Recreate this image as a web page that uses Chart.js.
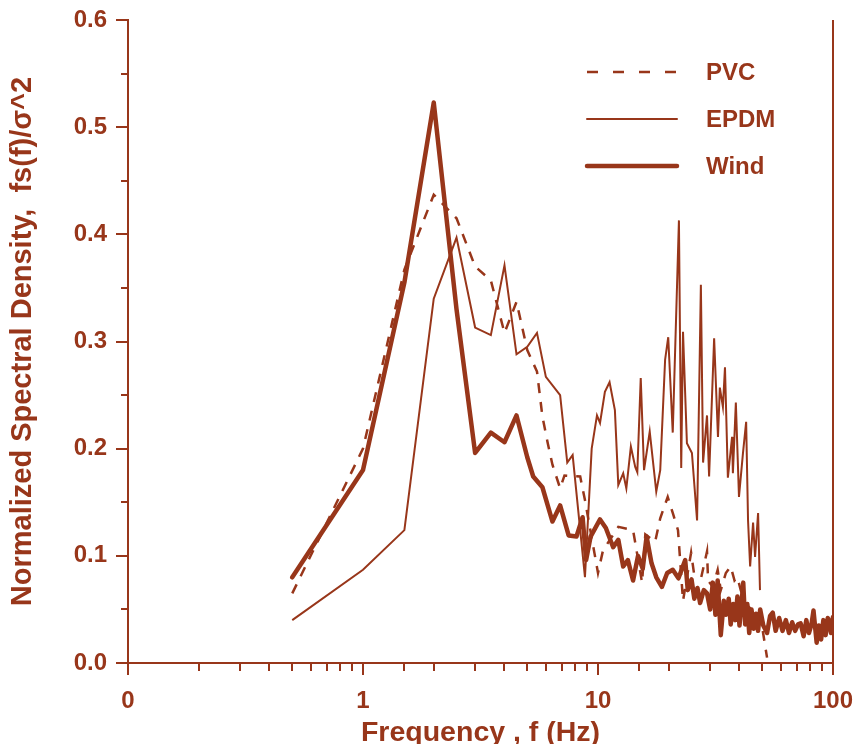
<!DOCTYPE html>
<html>
<head>
<meta charset="utf-8">
<script src="https://cdn.jsdelivr.net/npm/chart.js@4/dist/chart.umd.min.js"></script>
<style>
  html, body { margin: 0; padding: 0; background: #fff; }
  canvas { display: block; }
</style>
</head>
<body>
<canvas id="psd" width="856" height="744"></canvas>
<script>
const ink = '#98361a';
const fontFam = "'Liberation Sans', Arial, Helvetica, sans-serif";

// (Hz, normalized density)
const pvcFreq = [0.5, 1, 1.5, 2, 2.5, 3, 3.5, 4, 4.5, 5, 5.5, 5.8, 6.1, 6.4, 6.9, 7.2, 8.4, 8.8,
  10.0, 10.5, 12.2, 14.1, 15.4, 15.9, 17.5, 18.4, 19.8, 20.8, 21.9, 23.0, 24.9, 25.6, 27.5,
  29.1, 29.4, 30.8, 32.3, 33.3, 35.0, 36.7, 38.1, 39.2, 40.5, 42.0, 45.0, 49.0, 52.4];
const pvcVal = [0.065, 0.20, 0.367, 0.437, 0.415, 0.37, 0.357, 0.308, 0.337, 0.292, 0.272, 0.23, 0.206, 0.185, 0.163, 0.175, 0.174, 0.152,
  0.084, 0.105, 0.127, 0.124, 0.075, 0.12, 0.113, 0.135, 0.155, 0.14, 0.124, 0.058, 0.103, 0.084, 0.08,
  0.104, 0.077, 0.071, 0.087, 0.068, 0.084, 0.09, 0.077, 0.08, 0.068, 0.056, 0.05, 0.045, 0.005];

const epdmFreq = [0.5, 1, 1.5, 2, 2.5, 3, 3.5, 4, 4.5, 5, 5.5, 6, 6.9, 7.4, 7.8, 8.8, 9.4, 9.9,
  10.2, 10.7, 11.2, 11.8, 12.2, 12.8, 13.2, 13.8, 14.4, 14.7, 15.2, 15.7, 16.6, 17.7, 18.4,
  19.3, 19.9, 20.8, 22.1, 22.6, 23.0, 23.9, 25.1, 26.4, 27.4, 28.0, 29.1, 29.7, 31.2, 32.4,
  33.0, 34.0, 34.7, 35.7, 37.2, 37.5, 38.6, 39.8, 41.4, 42.7, 43.5, 44.4, 45.7, 46.6, 48.0, 48.9];
const epdmVal = [0.040, 0.087, 0.124, 0.34, 0.397, 0.313, 0.306, 0.371, 0.288, 0.295, 0.308, 0.267, 0.25, 0.187, 0.194, 0.08, 0.2, 0.231,
  0.224, 0.253, 0.262, 0.236, 0.166, 0.177, 0.163, 0.202, 0.183, 0.178, 0.266, 0.18, 0.216, 0.16, 0.18,
  0.283, 0.304, 0.215, 0.413, 0.182, 0.309, 0.205, 0.196, 0.133, 0.353, 0.187, 0.231, 0.174, 0.303, 0.211,
  0.257, 0.239, 0.276, 0.173, 0.211, 0.177, 0.243, 0.155, 0.196, 0.225, 0.133, 0.09, 0.131, 0.099, 0.14, 0.068];

const windFreq = [0.5, 1, 1.5, 2, 2.5, 3, 3.5, 4, 4.5, 5, 5.3, 5.8, 6.4, 6.9, 7.5, 8.1, 8.6, 8.9, 9.3,
  10.2, 10.8, 11.6, 12.2, 12.8, 13.4, 14.1, 14.8, 15.5, 16.1, 16.9, 17.7, 18.7, 19.7, 20.8, 22.0,
  23.5, 24.1, 25.0, 25.7, 26.5, 27.2, 28.2, 29.1, 30.0, 30.8, 31.6, 32.3, 33.3, 34.3, 35.0, 36.0,
  36.7, 37.6, 38.4, 39.2, 40.0, 40.8, 41.5, 42.3, 43.2, 44.0, 45.0, 46.0, 47.0, 48.0, 49.0, 50.5,
  52.4, 54.0, 55.4, 57.0, 59.0, 61.0, 63.0, 65.0, 67.0, 69.0, 71.0, 72.8, 75.0, 77.0, 79.0, 81.0,
  82.6, 85.2, 87.0, 89.0, 91.0, 93.0, 95.0, 96.0, 98.0, 100];
const windVal = [0.080, 0.180, 0.355, 0.523, 0.33, 0.196, 0.215, 0.206, 0.231, 0.192, 0.174, 0.164, 0.132, 0.147, 0.119, 0.118, 0.136, 0.096, 0.118,
  0.134, 0.126, 0.108, 0.115, 0.09, 0.096, 0.077, 0.10, 0.088, 0.118, 0.093, 0.08, 0.071, 0.084, 0.087, 0.079,
  0.096, 0.068, 0.078, 0.06, 0.07, 0.056, 0.068, 0.065, 0.05, 0.075, 0.045, 0.077, 0.026, 0.058, 0.045, 0.06,
  0.036, 0.055, 0.04, 0.062, 0.035, 0.056, 0.075, 0.036, 0.055, 0.028, 0.05, 0.032, 0.046, 0.03, 0.05, 0.035,
  0.028, 0.044, 0.047, 0.03, 0.042, 0.03, 0.04, 0.028, 0.038, 0.03, 0.036, 0.037, 0.025, 0.04, 0.028, 0.036,
  0.049, 0.019, 0.035, 0.022, 0.04, 0.026, 0.042, 0.04, 0.028, 0.043];

const yTicks = [0, 0.1, 0.2, 0.3, 0.4, 0.5, 0.6];

function pts(fs, vs) {
  return fs.map((f, i) => ({ x: f, y: vs[i] }));
}

function isDecade(v) {
  const l = Math.log10(v);
  return Math.abs(l - Math.round(l)) < 1e-6;
}

// tick marks (long at decades / tenths, short between) + right frame line
const frameTicks = {
  id: 'frameTicks',
  afterDraw(chart) {
    const { ctx, chartArea: a, scales: { x, y } } = chart;
    ctx.save();
    ctx.strokeStyle = ink;
    ctx.lineWidth = 2;
    ctx.beginPath();
    x.ticks.forEach(t => {
      const px = Math.round(x.getPixelForValue(t.value));
      const len = isDecade(t.value) ? 12 : 8;
      ctx.moveTo(px, a.bottom);
      ctx.lineTo(px, a.bottom + len);
    });
    for (let i = 0; i < yTicks.length; i++) {
      const py = Math.round(y.getPixelForValue(yTicks[i]));
      ctx.moveTo(a.left, py);
      ctx.lineTo(a.left - 12, py);
      if (i < yTicks.length - 1) {
        const pm = Math.round(y.getPixelForValue((yTicks[i] + yTicks[i + 1]) / 2));
        ctx.moveTo(a.left, pm);
        ctx.lineTo(a.left - 7, pm);
      }
    }
    ctx.moveTo(a.right, a.top);
    ctx.lineTo(a.right, a.bottom + 1);
    ctx.stroke();
    ctx.restore();
  }
};

// legend drawn inside the plot, top right
const innerLegend = {
  id: 'innerLegend',
  afterDraw(chart, args, opts) {
    const { ctx } = chart;
    ctx.save();
    ctx.font = 'bold ' + opts.fontSize + 'px ' + fontFam;
    ctx.fillStyle = ink;
    ctx.strokeStyle = ink;
    ctx.textBaseline = 'middle';
    chart.data.datasets.forEach((ds, i) => {
      const yy = opts.y + i * opts.rowGap;
      ctx.lineWidth = ds.borderWidth;
      ctx.lineCap = ds.borderDash.length ? 'butt' : 'round';
      ctx.setLineDash(ds.borderDash.length ? opts.dash : []);
      ctx.beginPath();
      ctx.moveTo(opts.x, yy);
      ctx.lineTo(opts.x + opts.lineLen, yy);
      ctx.stroke();
      ctx.fillText(ds.label, opts.x + opts.lineLen + opts.textGap, yy + 1);
    });
    ctx.restore();
  }
};

new Chart(document.getElementById('psd'), {
  type: 'line',
  data: {
    datasets: [
      { label: 'PVC', data: pts(pvcFreq, pvcVal), borderColor: ink, borderWidth: 2.5, borderDash: [10, 9] },
      { label: 'EPDM', data: pts(epdmFreq, epdmVal), borderColor: ink, borderWidth: 2, borderDash: [] },
      { label: 'Wind', data: pts(windFreq, windVal), borderColor: ink, borderWidth: 4.5, borderDash: [],
        borderJoinStyle: 'round', borderCapStyle: 'round' }
    ]
  },
  options: {
    responsive: false,
    animation: false,
    devicePixelRatio: 1,
    layout: { padding: { left: 0, top: 20, right: 23, bottom: 0 } },
    elements: { point: { radius: 0 }, line: { tension: 0, fill: false } },
    plugins: {
      legend: { display: false },
      tooltip: { enabled: false },
      innerLegend: { x: 587, y: 72, rowGap: 47, lineLen: 90, textGap: 29, fontSize: 24, dash: [11, 15] }
    },
    scales: {
      x: {
        type: 'logarithmic',
        min: 0.1,
        max: 100,
        afterFit(s) {
          s.height = 81;
          s.paddingLeft = 0;
          s.paddingRight = 0;
        },
        grid: { display: false, drawTicks: false },
        border: { display: true, color: ink, width: 2 },
        ticks: {
          autoSkip: false,
          maxRotation: 0,
          padding: 24,
          color: ink,
          font: { family: fontFam, size: 24, weight: 'bold' },
          callback(v) {
            if (!isDecade(v)) return '';
            return v < 0.5 ? '0' : String(Math.round(v));
          }
        },
        title: {
          display: true,
          text: 'Frequency , f (Hz)',
          color: ink,
          font: { family: fontFam, size: 28.5, weight: 'bold', lineHeight: 1 },
          padding: { top: 0, bottom: -3 }
        }
      },
      y: {
        min: 0,
        max: 0.6,
        afterFit(s) {
          s.width = 128;
          s.paddingTop = 0;
          s.paddingBottom = 0;
        },
        afterBuildTicks(s) { s.ticks = yTicks.map(v => ({ value: v })); },
        grid: { display: false, drawTicks: false },
        border: { display: true, color: ink, width: 2 },
        ticks: {
          padding: 21,
          color: ink,
          font: { family: fontFam, size: 24, weight: 'bold' },
          callback: v => v.toFixed(1)
        },
        title: {
          display: true,
          text: 'Normalized Spectral Density,  fs(f)/\u03c3^2',
          color: ink,
          font: { family: fontFam, size: 29, weight: 'bold', lineHeight: 1 },
          padding: { top: 8, bottom: 0 }
        }
      }
    }
  },
  plugins: [frameTicks, innerLegend]
});
</script>
</body>
</html>
